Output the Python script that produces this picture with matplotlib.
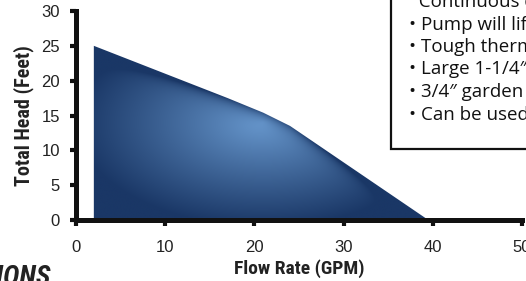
import numpy as np
import matplotlib
matplotlib.use("Agg")
import matplotlib.pyplot as plt
from matplotlib import font_manager
from matplotlib.patches import Polygon, Rectangle
from matplotlib.colors import to_rgb

# pump curve
flow_gpm = [2, 17, 21, 24, 39.5]
head_ft = [25, 17.5, 15.4, 13.5, 0]

x_ticks = [0, 10, 20, 30, 40, 50]
y_ticks = [0, 5, 10, 15, 20, 25, 30]

box_lines = [
    "  Continuous duty motor",
    "\u2022 Pump will lift water up to 25 ft",
    "\u2022 Tough thermoplastic housing",
    "\u2022 Large 1-1/4\u2033 discharge",
    "\u2022 3/4\u2033 garden hose adapter",
    "\u2022 Can be used for dewatering",
]

# a narrow bold face for the axis titles, if one is installed
names = {f.name for f in font_manager.fontManager.ttflist}
narrow = "DejaVu Sans"
for cand in ["Liberation Sans Narrow", "Roboto Condensed", "DejaVu Sans Condensed", "Open Sans Condensed"]:
    if cand in names:
        narrow = cand
        break
lab_font = [narrow, "DejaVu Sans"]

W, H = 526, 281
fig = plt.figure(figsize=(W / 100, H / 100), dpi=100)
ax = fig.add_axes([76 / W, (H - 220) / H, (522 - 76) / W, (220 - 11) / H])
ax.set_xlim(0, 50)
ax.set_ylim(0, 30)

# gradient fill clipped to the curve area
dark = np.array(to_rgb("#1a3766"))
light = np.array(to_rgb("#6b9cd2"))
gx = np.linspace(0, 50, 500)
gy = np.linspace(0, 30, 300)
X, Y = np.meshgrid(gx, gy)
r = np.sqrt(((X - 21) / 21) ** 2 + ((Y - 14) / 15) ** 2)
t = np.clip(r, 0, 1) ** 0.9
top = np.interp(X, flow_gpm, head_ft)
edge = np.exp(-np.clip(top - Y, 0, None) * 7 / 6)
t = np.clip(t + 0.6 * edge, 0, 1)
img = light[None, None, :] * (1 - t[..., None]) + dark[None, None, :] * t[..., None]

verts = [(flow_gpm[0], 0)] + list(zip(flow_gpm, head_ft)) + [(flow_gpm[-1], 0)]
poly = Polygon(verts, closed=True, facecolor="none", edgecolor="none")
ax.add_patch(poly)
im = ax.imshow(img, extent=(0, 50, 0, 30), origin="lower", aspect="auto", zorder=1)
im.set_clip_path(poly)

for s in ["top", "right"]:
    ax.spines[s].set_visible(False)
for s in ["left", "bottom"]:
    ax.spines[s].set_linewidth(3.6)
    ax.spines[s].set_color("#111111")
    ax.spines[s].set_zorder(3)

tick_font = {"family": "Liberation Sans", "size": 12, "color": "#222222"}
ax.set_xticks(x_ticks)
ax.set_yticks(y_ticks)
ax.set_xticklabels([str(v) for v in x_ticks], fontdict=tick_font)
ax.set_yticklabels([str(v) for v in y_ticks], fontdict=tick_font)
ax.tick_params(axis="both", length=4.5, width=3, color="#111111", direction="out")
ax.tick_params(axis="x", pad=10)
ax.tick_params(axis="y", pad=7)

ax.set_xlabel("Flow Rate (GPM)", family=lab_font, weight="black", stretch="condensed",
              size=14, color="#222222", labelpad=3)
ax.set_ylabel("Total Head (Feet)", family=lab_font, weight="black", stretch="condensed",
              size=14.5, color="#222222", labelpad=5)

# spec box, cut off by the right and top edges
fig.patches.append(Rectangle((391 / W, (H - 149) / H), 0.5, 0.6, transform=fig.transFigure,
                             facecolor="white", edgecolor="#111111", linewidth=1.6, zorder=5))
for i, line in enumerate(box_lines):
    fig.text(409 / W, (H - (2 + 22.5 * i)) / H, line, family=["Open Sans", "DejaVu Sans"],
             size=13.5, color="#111111", va="center", ha="left", zorder=6)

fig.text(51 / W, (H - 264) / H, "SPECIFICATIONS", family=lab_font, weight="black", style="italic",
         stretch="condensed", size=20, color="#222222", ha="right", va="top")

fig.savefig("out.png", dpi=100)
